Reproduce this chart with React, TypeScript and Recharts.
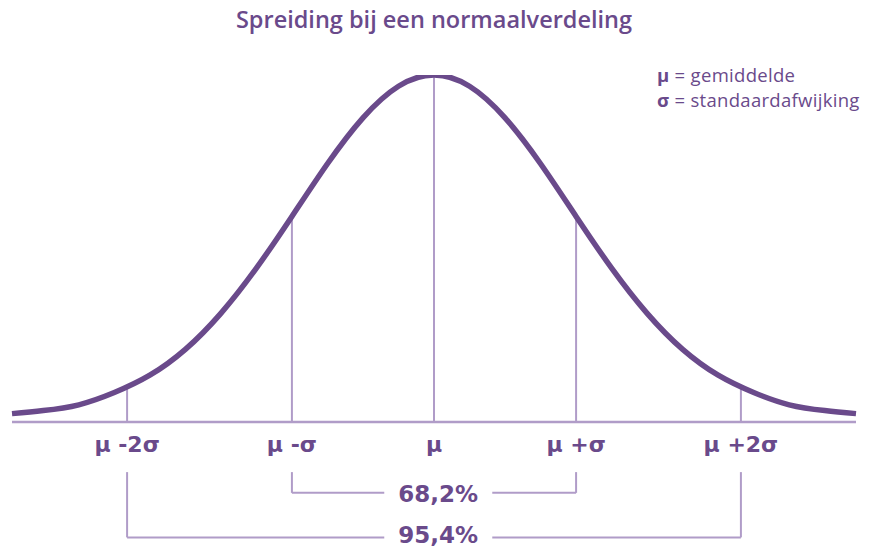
import { LineChart, Line, XAxis, YAxis, ReferenceLine, ReferenceDot } from 'recharts';

// positions along the axis, in units of the μ±σ guide spacing
const xValues = [
  -2.97, -2.75, -2.5, -2.25, -2, -1.75, -1.5, -1.25, -1, -0.75, -0.5, -0.25, 0,
  0.25, 0.5, 0.75, 1, 1.25, 1.5, 1.75, 2, 2.25, 2.5, 2.75, 2.97,
];
// relative height of the curve (peak = 1)
const density = [
  0.004, 0.013, 0.03, 0.066, 0.117, 0.193, 0.299, 0.432, 0.584, 0.739, 0.874, 0.967, 1,
  0.967, 0.874, 0.739, 0.584, 0.432, 0.299, 0.193, 0.117, 0.066, 0.03, 0.013, 0.004,
];

const tickPositions = [-2.16, -1, 0, 1, 2.16];
const tickLabels = ['μ -2σ', 'μ -σ', 'μ', 'μ +σ', 'μ +2σ'];
const guideTops = [0.084, 0.584, 1, 0.584, 0.084];

const ranges = [
  { label: '68,2%', from: -1, to: 1 },
  { label: '95,4%', from: -2.16, to: 2.16 },
];

const PURPLE = '#6a4a8b';
const GUIDE = '#b09cc8';
const FONT = '"Open Sans", sans-serif';
const BOLD_FONT = '"DejaVu Sans", sans-serif';

// vertical placement of the brackets under the axis (y units below the curve baseline)
const BRACKET_TOP = -0.168;
const BRACKET_LEVELS = [-0.229, -0.36];
const Y_MIN = -0.0206;

const data = xValues.map((x, i) => ({ x, y: density[i] }));

const PctLabel = (text: string, shift: number) => (props: any) => {
  const { cx, cy } = props;
  return (
    <g>
      <rect x={cx - 54} y={cy - 14} width={108} height={28} fill="#fff" />
      <text
        x={cx}
        y={cy + shift}
        textAnchor="middle"
        fill={PURPLE}
        fontFamily={BOLD_FONT}
        fontWeight={700}
        fontSize={23}
      >
        {text}
      </text>
    </g>
  );
};

export default function App() {
  return (
    <div style={{ position: 'absolute', left: 0, top: 0, width: 872, height: 548, background: '#fff' }}>
      <LineChart width={872} height={548} data={data} margin={{ top: 75, right: 16, bottom: 86, left: 12 }}>
        <text x={434} y={28} textAnchor="middle" fill={PURPLE} fontFamily={FONT} fontWeight={600} fontSize={23.5}>
          Spreiding bij een normaalverdeling
        </text>
        <text x={657} y={82} fill={PURPLE} fontFamily={FONT} fontSize={18.5} letterSpacing={0.3}>
          <tspan fontWeight={700}>μ</tspan>
          <tspan> = gemiddelde</tspan>
        </text>
        <text x={657} y={107} fill={PURPLE} fontFamily={FONT} fontSize={18.5} letterSpacing={0.3}>
          <tspan fontWeight={700}>σ</tspan>
          <tspan> = standaardafwijking</tspan>
        </text>
        <XAxis
          dataKey="x"
          type="number"
          domain={[-2.97, 2.97]}
          ticks={tickPositions}
          tickFormatter={(v: number) => tickLabels[tickPositions.indexOf(v)] ?? ''}
          axisLine={{ stroke: GUIDE, strokeWidth: 2.5 }}
          tickLine={false}
          tickMargin={8}
          height={40}
          interval={0}
          tick={{ fill: PURPLE, fontFamily: BOLD_FONT, fontWeight: 700, fontSize: 22 }}
        />
        <YAxis hide type="number" domain={[Y_MIN, 1]} allowDataOverflow />
        {tickPositions.map((x, i) => (
          <ReferenceLine
            key={'g' + i}
            segment={[{ x, y: Y_MIN }, { x, y: guideTops[i] }]}
            stroke={GUIDE}
            strokeWidth={2}
            ifOverflow="visible"
          />
        ))}
        {ranges.map((r, i) => (
          <ReferenceLine
            key={'l' + i}
            segment={[{ x: r.from, y: BRACKET_TOP }, { x: r.from, y: BRACKET_LEVELS[i] }]}
            stroke={GUIDE}
            strokeWidth={2}
            ifOverflow="visible"
          />
        ))}
        {ranges.map((r, i) => (
          <ReferenceLine
            key={'r' + i}
            segment={[{ x: r.to, y: BRACKET_TOP }, { x: r.to, y: BRACKET_LEVELS[i] }]}
            stroke={GUIDE}
            strokeWidth={2}
            ifOverflow="visible"
          />
        ))}
        {ranges.map((r, i) => (
          <ReferenceLine
            key={'h' + i}
            segment={[{ x: r.from, y: BRACKET_LEVELS[i] }, { x: r.to, y: BRACKET_LEVELS[i] }]}
            stroke={GUIDE}
            strokeWidth={2}
            ifOverflow="visible"
          />
        ))}
        {ranges.map((r, i) => (
          <ReferenceDot
            key={'p' + i}
            x={0.03}
            y={BRACKET_LEVELS[i]}
            ifOverflow="visible"
            shape={PctLabel(r.label, i === 0 ? 9 : 6)}
          />
        ))}
        <Line
          type="natural"
          dataKey="y"
          stroke={PURPLE}
          strokeWidth={5.5}
          dot={false}
          isAnimationActive={false}
        />
      </LineChart>
    </div>
  );
}
